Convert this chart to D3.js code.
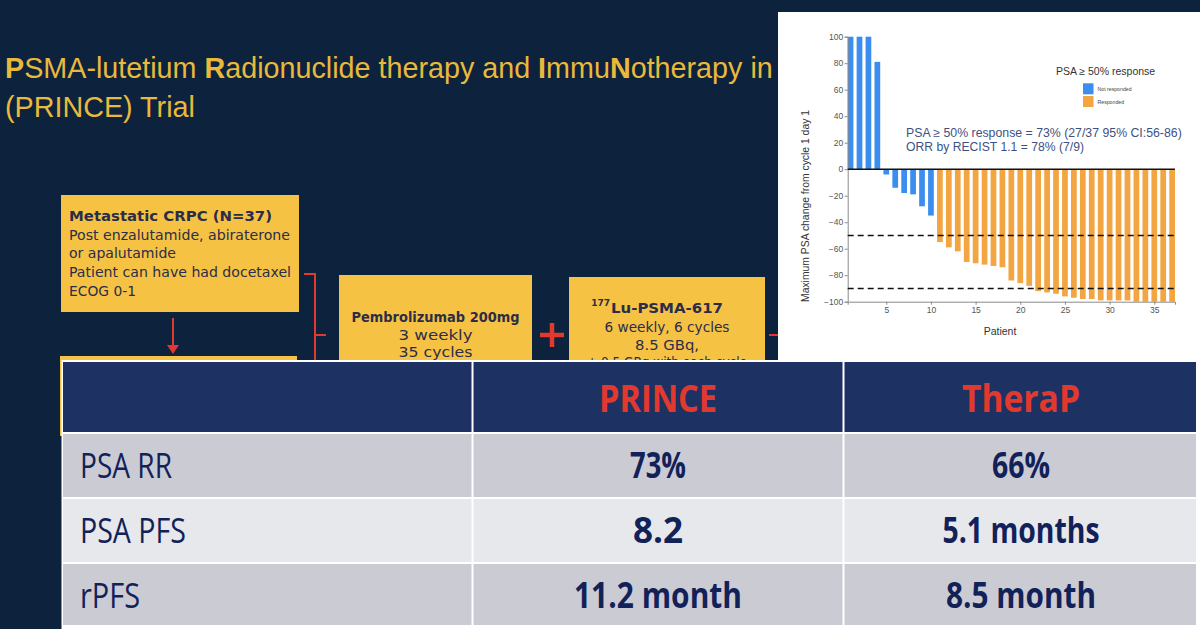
<!DOCTYPE html>
<html>
<head>
<meta charset="utf-8">
<script src="https://cdn.jsdelivr.net/npm/d3@7/dist/d3.min.js"></script>
<style>
  html, body { margin: 0; padding: 0; background: #0d223c; }
  svg { display: block; }
</style>
</head>
<body>
<svg id="slide" width="1200" height="629"></svg>
<script>
// ---------------- DATA ----------------
const patients = d3.range(1, 38);
const psaChange = [100, 100, 100, 81, -4, -14, -18, -19, -28, -35,
  -55, -59, -62, -70, -71, -72, -73, -74,
  -84, -86, -88, -92, -93, -94, -96, -97, -98, -98,
  -99, -99, -99, -99, -100, -100, -100, -100, -100];
const yTicks = [100, 80, 60, 40, 20, 0, -20, -40, -60, -80, -100];
const xTicks = [5, 10, 15, 20, 25, 30, 35];
const thresholds = [-50, -90];
const legendItems = ["Not responded", "Responded"];
const annotationLines = ["PSA \u2265 50% response = 73% (27/37 95% CI:56-86)", "ORR by RECIST 1.1 = 78% (7/9)"];

const tableHeader = ["", "PRINCE", "TheraP"];
const tableRowLabels = ["PSA RR", "PSA PFS", "rPFS"];
const princeValues = ["73%", "8.2", "11.2 month"];
const therapValues = ["66%", "5.1 months", "8.5 month"];

const box1Lines = ["Metastatic CRPC (N=37)", "Post enzalutamide, abiraterone", "or apalutamide", "Patient can have had docetaxel", "ECOG 0-1"];
const pembroLines = ["Pembrolizumab 200mg", "3 weekly", "35 cycles"];
const luLines = ["Lu-PSMA-617", "6 weekly, 6 cycles", "8.5 GBq,", "\u00b1 0.5 GBq with each cycle"];

// ---------------- STYLE ----------------
const C = {
  bg: "#0d223c", gold: "#e9b93c", yellow: "#f6c244", boxText: "#2b2d48",
  red: "#e2392f", navyHead: "#1e3163", rowDark: "#cbccd3", rowLight: "#e7e8ec",
  tableText: "#122259", blue: "#3b8eef", orange: "#f2a540"
};
const svg = d3.select("#slide");
const defs = svg.append("defs");

function fit(sel, w) {
  sel.each(function () {
    const L = this.getComputedTextLength();
    if (Math.abs(L - w) > 1) {
      d3.select(this).attr("textLength", w).attr("lengthAdjust", "spacingAndGlyphs");
    }
  });
}
// horizontal scaling of a whole group (keeps tspans in order)
function scaleFit(g, textSel, x0, w) {
  const L = textSel.node().getComputedTextLength();
  g.attr("transform", `translate(${x0},0) scale(${w / L},1)`);
}

svg.append("rect").attr("width", 1200).attr("height", 629).attr("fill", C.bg);

// ---------------- TITLE ----------------
const titleFont = "'Liberation Sans Narrow', 'Arial Narrow', 'Liberation Sans', Arial, sans-serif";
const g1 = svg.append("g");
const t1 = g1.append("text").attr("x", 0).attr("y", 78)
  .attr("font-family", titleFont).attr("font-size", 30).attr("fill", C.gold);
[["P", 1], ["SMA-lutetium ", 0], ["R", 1], ["adionuclide therapy and ", 0], ["I", 1], ["mmu", 0], ["N", 1], ["otherapy in", 0]]
  .forEach(([s, b]) => t1.append("tspan").attr("font-weight", b ? 700 : 400).text(s));
scaleFit(g1, t1, 5, 768);
const g2 = svg.append("g");
const t2 = g2.append("text").attr("x", 0).attr("y", 117)
  .attr("font-family", titleFont).attr("font-size", 30).attr("fill", C.gold).text("(PRINCE) Trial");
scaleFit(g2, t2, 5, 190);

// ---------------- FLOW CHART ----------------
const flowFont = "'DejaVu Sans', Verdana, sans-serif";
svg.append("rect").attr("x", 61).attr("y", 195).attr("width", 238).attr("height", 117).attr("fill", C.yellow);
const b1y = [221, 240, 258, 277, 296];
const b1w = [203, 221, 107, 222, 67];
box1Lines.forEach((s, i) => {
  const t = svg.append("text").attr("x", 69).attr("y", b1y[i])
    .attr("font-family", flowFont).attr("font-size", 13.5).attr("fill", C.boxText)
    .attr("font-weight", i === 0 ? 700 : 400).text(s);
  fit(t, b1w[i]);
});
// down arrow
svg.append("line").attr("x1", 173).attr("x2", 173).attr("y1", 318).attr("y2", 346)
  .attr("stroke", C.red).attr("stroke-width", 2);
svg.append("path").attr("d", "M167,345 L179,345 L173,354 Z").attr("fill", C.red);
// bracket
svg.append("path").attr("d", "M304,274 L315,274 L315,365 M315,335 L326,335")
  .attr("fill", "none").attr("stroke", C.red).attr("stroke-width", 2);
// second box (mostly hidden)
svg.append("rect").attr("x", 60).attr("y", 356).attr("width", 237).attr("height", 80).attr("fill", C.yellow);

// Pembrolizumab box
svg.append("rect").attr("x", 339).attr("y", 275).attr("width", 193).attr("height", 95).attr("fill", C.yellow);
const pby = [322, 340, 357], pbw = [168, 74, 74];
pembroLines.forEach((s, i) => {
  const t = svg.append("text").attr("x", 435.5).attr("y", pby[i]).attr("text-anchor", "middle")
    .attr("font-family", flowFont).attr("font-size", 13.5).attr("fill", C.boxText)
    .attr("font-weight", i === 0 ? 700 : 400).text(s);
  fit(t, pbw[i]);
});
// plus
svg.append("path").attr("d", "M540,335 L564,335 M552,323 L552,347")
  .attr("stroke", C.red).attr("stroke-width", 4.5);
// Lu box (clipped at the table's top edge, as in the slide)
defs.append("clipPath").attr("id", "luclip").append("rect")
  .attr("x", 560).attr("y", 270).attr("width", 215).attr("height", 91);
const luG = svg.append("g").attr("clip-path", "url(#luclip)");
luG.append("rect").attr("x", 569).attr("y", 277).attr("width", 196).attr("height", 95).attr("fill", C.yellow);
const luy = [313, 332, 350, 366.5], luw = [112, 125, 64, 160];
luLines.forEach((s, i) => {
  const t = luG.append("text").attr("x", i === 0 ? 611 : 667).attr("y", luy[i])
    .attr("text-anchor", i === 0 ? "start" : "middle")
    .attr("font-family", flowFont).attr("font-size", 13.5).attr("fill", C.boxText)
    .attr("font-weight", i === 0 ? 700 : 400).text(s);
  fit(t, luw[i]);
});
luG.append("text").attr("x", 610).attr("y", 306).attr("text-anchor", "end")
  .attr("font-family", flowFont).attr("font-size", 9).attr("font-weight", 700).attr("fill", C.boxText).text("177");
svg.append("line").attr("x1", 769).attr("x2", 782).attr("y1", 335).attr("y2", 335)
  .attr("stroke", C.red).attr("stroke-width", 2);

// ---------------- WATERFALL CHART ----------------
svg.append("rect").attr("x", 778).attr("y", 12).attr("width", 422).attr("height", 350).attr("fill", "#ffffff");
const chartFont = "'Liberation Sans', Arial, sans-serif";
const barW = 0.64;
const x = d3.scaleLinear().domain([1 - barW / 2, 37 + barW / 2]).range([847.7, 1175]);
const y = d3.scaleLinear().domain([-100, 100]).range([301.7, 36.7]);
const chart = svg.append("g");

chart.selectAll("rect.bar").data(patients).join("rect").attr("class", "bar")
  .attr("x", d => x(d - barW / 2))
  .attr("width", x(1 + barW) - x(1))
  .attr("y", (d, i) => y(Math.max(0, psaChange[i])))
  .attr("height", (d, i) => Math.abs(y(psaChange[i]) - y(0)))
  .attr("fill", (d, i) => psaChange[i] <= -50 ? C.orange : C.blue);

// axes
const yAxis = chart.append("g").attr("transform", `translate(${x.range()[0]},0)`)
  .call(d3.axisLeft(y).tickValues(yTicks).tickSize(3).tickPadding(1.5));
const xAxis = chart.append("g").attr("transform", `translate(0,${y(-100)})`)
  .call(d3.axisBottom(x).tickValues(xTicks).tickSize(3).tickPadding(2));
[yAxis, xAxis].forEach(a => {
  a.select(".domain").attr("stroke", "#8a8a8a").attr("stroke-width", 1);
  a.selectAll(".tick line").attr("stroke", "#8a8a8a");
  a.selectAll(".tick text").attr("fill", "#555").attr("font-family", chartFont).attr("font-size", 8.5);
});

// zero line & thresholds
chart.append("line").attr("x1", x.range()[0]).attr("x2", x.range()[1]).attr("y1", y(0)).attr("y2", y(0))
  .attr("stroke", "#111").attr("stroke-width", 1.6);
chart.selectAll("line.thr").data(thresholds).join("line").attr("class", "thr")
  .attr("x1", x.range()[0]).attr("x2", x.range()[1]).attr("y1", d => y(d)).attr("y2", d => y(d))
  .attr("stroke", "#111").attr("stroke-width", 1.4).attr("stroke-dasharray", "6,4");

// axis titles
chart.append("text").attr("x", 1000).attr("y", 335).attr("text-anchor", "middle")
  .attr("font-family", chartFont).attr("font-size", 10.5).attr("fill", "#333").text("Patient");
const yl = chart.append("text").attr("transform", "translate(809,206) rotate(-90)").attr("text-anchor", "middle")
  .attr("font-family", chartFont).attr("font-size", 10).attr("fill", "#333").text("Maximum PSA change from cycle 1 day 1");
fit(yl, 192);

// legend
const lt = chart.append("text").attr("x", 1056).attr("y", 75)
  .attr("font-family", chartFont).attr("font-size", 10.5).attr("fill", "#333").text("PSA \u2265 50% response");
fit(lt, 99);
legendItems.forEach((s, i) => {
  chart.append("rect").attr("x", 1083).attr("y", 83.3 + i * 12.7).attr("width", 10.5).attr("height", 11)
    .attr("fill", i === 0 ? C.blue : C.orange);
  chart.append("text").attr("x", 1097.5).attr("y", 91 + i * 12.7)
    .attr("font-family", chartFont).attr("font-size", 5.2).attr("fill", "#444").text(s);
});

// annotation
annotationLines.forEach((s, i) => {
  const t = chart.append("text").attr("x", 906).attr("y", 136.5 + i * 14.5)
    .attr("font-family", chartFont).attr("font-size", 12.3).attr("fill", "#3e5182").text(s);
  fit(t, i === 0 ? 275 : 178);
});

// ---------------- TABLE ----------------
const tableFont = "'Liberation Sans Narrow', 'Arial Narrow', 'Open Sans', sans-serif";
svg.append("rect").attr("x", 61.5).attr("y", 360).attr("width", 1138.5).attr("height", 269).attr("fill", "#ffffff");
const colX = [63, 473.5, 844.5, 1198];
const rowY = [362, 434, 499, 564, 627];
const rowFill = [C.navyHead, C.rowDark, C.rowLight, C.rowDark];
for (let r = 0; r < 4; r++) {
  for (let c = 0; c < 3; c++) {
    svg.append("rect").attr("x", colX[c]).attr("y", rowY[r])
      .attr("width", colX[c + 1] - colX[c] - 2).attr("height", rowY[r + 1] - rowY[r] - 2)
      .attr("fill", rowFill[r]);
  }
}
const colCenter = [80, 658, 1021];
tableHeader.forEach((s, c) => {
  if (!s) return;
  const t = svg.append("text").attr("x", colCenter[c]).attr("y", 412).attr("text-anchor", "middle")
    .attr("font-family", tableFont).attr("font-size", 38).attr("font-weight", 700).attr("fill", C.red).text(s);
  fit(t, 118);
});
const labelW = [92, 106, 60];
const princeW = [56, 50, 168];
const therapW = [58, 157, 150];
tableRowLabels.forEach((s, r) => {
  const yy = [478, 543, 608][r];
  fit(svg.append("text").attr("x", 80).attr("y", yy).attr("font-family", tableFont).attr("font-size", 35)
    .attr("fill", C.tableText).text(s), labelW[r]);
  fit(svg.append("text").attr("x", colCenter[1]).attr("y", yy).attr("text-anchor", "middle")
    .attr("font-family", tableFont).attr("font-size", 35).attr("font-weight", 700)
    .attr("fill", C.tableText).text(princeValues[r]), princeW[r]);
  fit(svg.append("text").attr("x", colCenter[2]).attr("y", yy).attr("text-anchor", "middle")
    .attr("font-family", tableFont).attr("font-size", 35).attr("font-weight", 700)
    .attr("fill", C.tableText).text(therapValues[r]), therapW[r]);
});
</script>
</body>
</html>
